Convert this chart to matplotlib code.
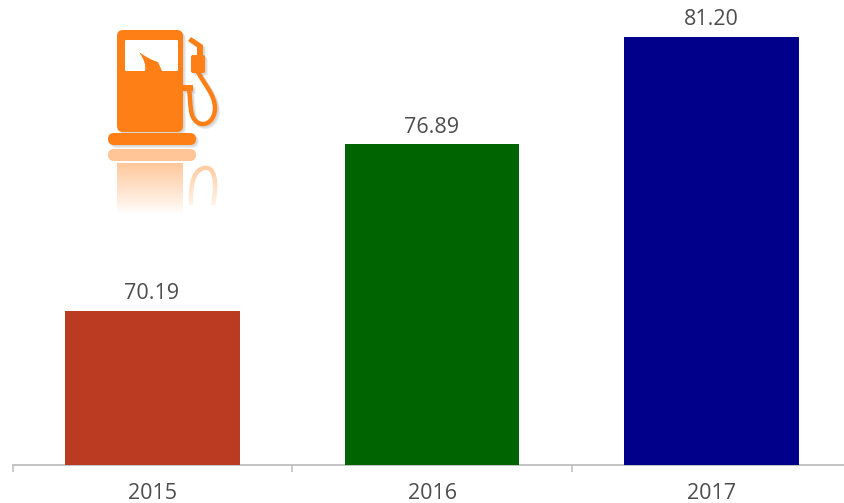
import numpy as np
import matplotlib
matplotlib.use("Agg")
import matplotlib.pyplot as plt
from matplotlib.patches import FancyBboxPatch, Rectangle, PathPatch, Polygon
from matplotlib.path import Path

years = ["2015", "2016", "2017"]
values = [70.19, 76.89, 81.20]
bar_colors = ["#BA3A22", "#006400", "#00008B"]

W, H = 845, 503
ORANGE = "#FF7F17"
plt.rcParams["font.family"] = ["Open Sans", "DejaVu Sans"]


def draw_pump(ax, color, alpha=1.0, dx=0, dy=0, z=5, window=True):
    # body, base, nozzle and hose in pixel coordinates
    kw = dict(facecolor=color, edgecolor="none", alpha=alpha, zorder=z)
    ax.add_patch(FancyBboxPatch((117 + dx, 30 + dy), 66, 102, boxstyle="round,pad=0,rounding_size=6", **kw))
    ax.add_patch(FancyBboxPatch((108 + dx, 133 + dy), 88, 12, boxstyle="round,pad=0,rounding_size=6", **kw))
    ax.add_patch(Rectangle((183 + dx, 85 + dy), 10, 6, **kw))
    ax.add_patch(Polygon(np.array([(188, 41), (191, 37), (203, 45), (203, 56), (197, 56), (197, 47)]) + (dx, dy), **kw))
    ax.add_patch(FancyBboxPatch((191 + dx, 55 + dy), 14, 18, boxstyle="round,pad=0,rounding_size=2", **kw))
    hose = Path(
        np.array([(198, 72), (204, 84), (215, 95), (215, 108),
                  (215, 118), (209, 124), (203, 124),
                  (196, 124), (192, 118), (191, 110),
                  (190, 103), (190, 96), (189, 89)]) + (dx, dy),
        [Path.MOVETO] + [Path.CURVE4] * 12,
    )
    ax.add_patch(PathPatch(hose, facecolor="none", edgecolor=color, lw=3.2, alpha=alpha, zorder=z))
    if window:
        ax.add_patch(FancyBboxPatch((125, 40), 53, 31, boxstyle="round,pad=0,rounding_size=1",
                                    facecolor="white", edgecolor="none", zorder=z + 1))
        needle = Path(
            [(139, 52), (150, 60), (158, 62), (162, 71), (145, 71), (147, 63), (139, 52)],
            [Path.MOVETO, Path.CURVE3, Path.CURVE3, Path.LINETO, Path.LINETO, Path.CURVE3, Path.CURVE3],
        )
        ax.add_patch(PathPatch(needle, facecolor=color, edgecolor="none", zorder=z + 2))


def main():
    fig = plt.figure(figsize=(W / 100, H / 100), dpi=100)

    # plot area runs from x=13 to the right edge, y=0 down to the baseline at 465
    ax = fig.add_axes([12.5 / W, 1 - 465 / H, (W - 12.5) / W, 465 / H])
    x = np.arange(len(years))
    bars = ax.bar(x, values, width=0.6245, color=bar_colors, zorder=3)
    ax.set_xlim(-0.5, 2.476)
    ax.set_ylim(64.0, 82.7)

    for rect, val in zip(bars, values):
        ax.annotate(f"{val:.2f}", (rect.get_x() + rect.get_width() / 2, val),
                    xytext=(-0.7, 5), textcoords="offset points", ha="center", va="bottom",
                    fontsize=15.5, color="#4d4d4d", clip_on=False)

    for side in ["top", "right", "left"]:
        ax.spines[side].set_visible(False)
    ax.spines["bottom"].set_color("#bdbdbd")
    ax.spines["bottom"].set_linewidth(1.3)
    ax.set_yticks([])
    ax.set_xticks([-0.5, 0.5, 1.5])
    ax.set_xticklabels([])
    ax.tick_params(axis="x", which="major", length=5, width=1.1, color="#bdbdbd")
    ax.set_xticks(x, minor=True)
    ax.set_xticklabels(years, minor=True, fontsize=15.5, color="#4d4d4d")
    ax.tick_params(axis="x", which="minor", length=0, pad=13)

    # icon layer in pixel coordinates
    icon = fig.add_axes([0, 0, 1, 1], facecolor="none")
    icon.set_xlim(0, W)
    icon.set_ylim(H, 0)
    icon.axis("off")

    # reflection, faded out with a white gradient on top
    icon.add_patch(FancyBboxPatch((108, 149), 88, 12, boxstyle="round,pad=0,rounding_size=6",
                                  facecolor=ORANGE, edgecolor="none", alpha=0.45, zorder=2))
    icon.add_patch(Rectangle((117, 163), 66, 50, facecolor=ORANGE, edgecolor="none", alpha=0.45, zorder=2))
    arc = Path([(191, 205), (190, 178), (196, 170), (204, 168), (214, 166), (218, 180), (213, 205)],
               [Path.MOVETO] + [Path.CURVE4] * 6)
    icon.add_patch(PathPatch(arc, facecolor="none", edgecolor=ORANGE, lw=3.2, alpha=0.45, zorder=2))
    fade = np.ones((64, 2, 4))
    fade[:, :, 3] = np.linspace(0.0, 1.0, 64)[:, None]
    icon.imshow(fade, extent=(100, 225, 216, 160), aspect="auto", zorder=3, interpolation="bilinear")
    icon.set_xlim(0, W)
    icon.set_ylim(H, 0)

    # soft drop shadow, then the pump itself
    for off, a in [(3.0, 0.08), (2.2, 0.10), (1.4, 0.12)]:
        draw_pump(icon, "#6b6b6b", alpha=a, dx=off, dy=off, z=4, window=False)
    draw_pump(icon, ORANGE, z=5)

    fig.savefig("out.png", dpi=100)
    plt.close(fig)


if __name__ == "__main__":
    main()
